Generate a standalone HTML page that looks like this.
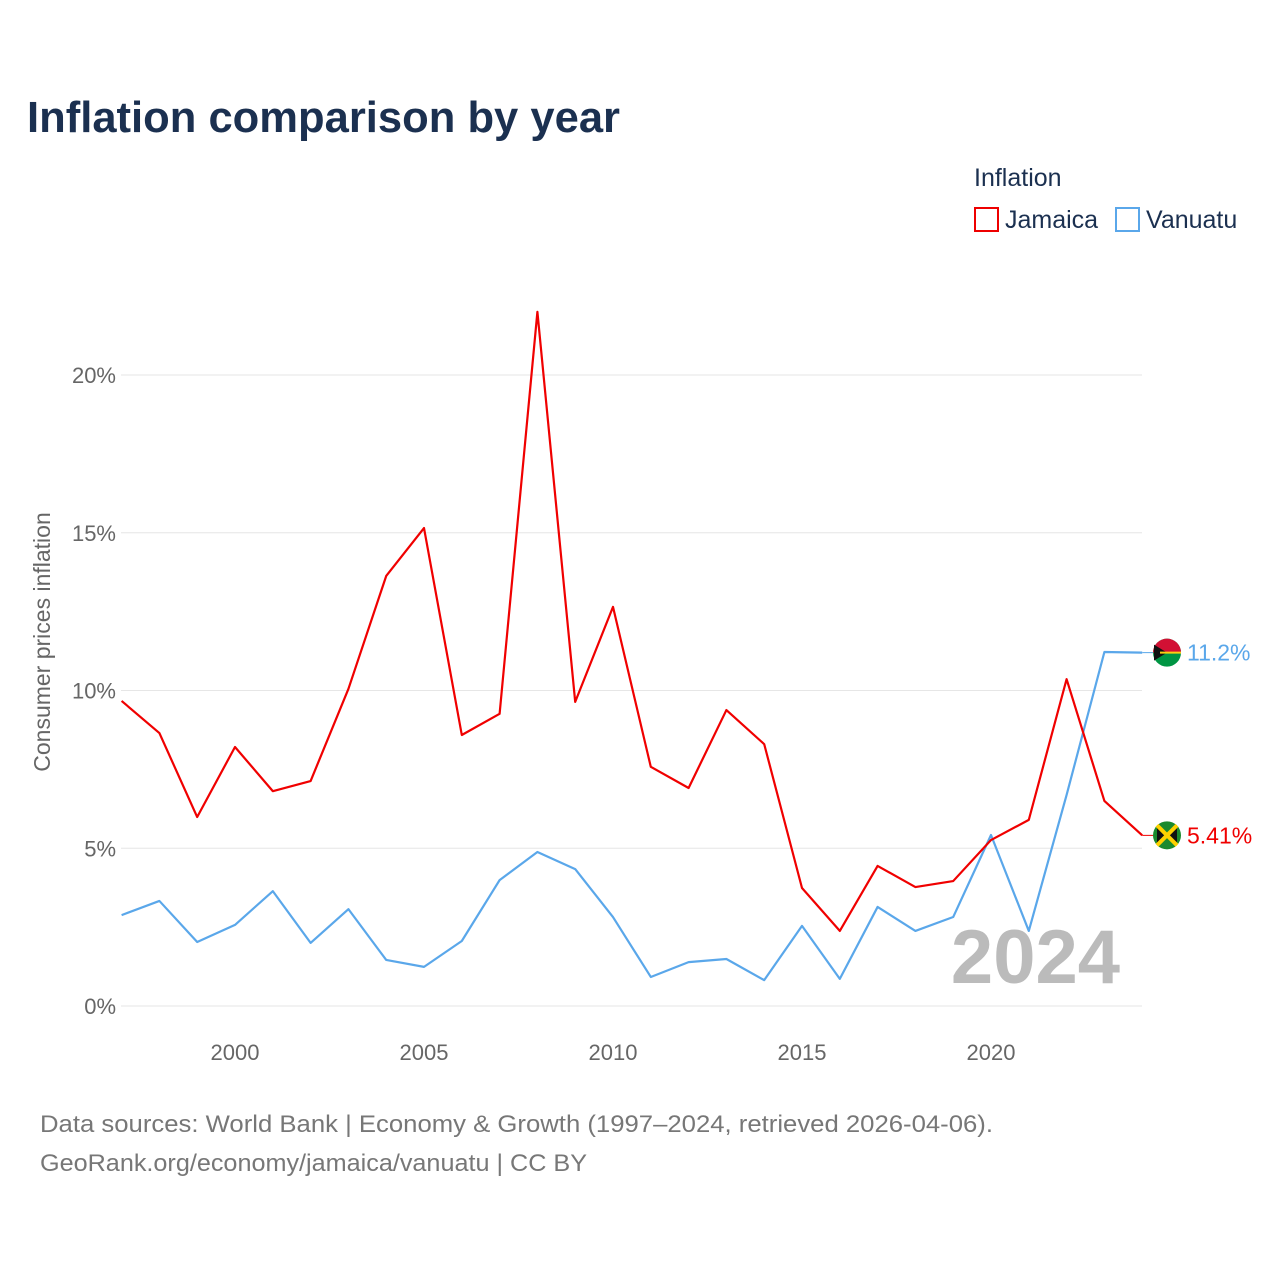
<!DOCTYPE html>
<html><head><meta charset="utf-8"><style>
body{margin:0;background:#fff;font-family:"Liberation Sans",sans-serif}
</style></head><body>
<svg width="1280" height="1280" xmlns="http://www.w3.org/2000/svg" id="chart">
<text x="27" y="132" font-size="44" font-weight="bold" fill="#1b3050" textLength="593" lengthAdjust="spacingAndGlyphs">Inflation comparison by year</text>
<text x="974" y="186" font-size="25" fill="#1b3050">Inflation</text>
<g><rect x="975" y="208" width="23" height="23" fill="none" stroke="#e00" stroke-width="2"/><text x="1005" y="228" font-size="25" fill="#1b3050">Jamaica</text></g>
<g><rect x="1116" y="208" width="23" height="23" fill="none" stroke="#5aa7ea" stroke-width="2"/><text x="1146" y="228" font-size="25" fill="#1b3050">Vanuatu</text></g>
<text transform="translate(50,642) rotate(-90)" text-anchor="middle" font-size="23" fill="#666">Consumer prices inflation</text>
<g id="grid"></g><g id="xt"></g>
<text x="1120" y="983" text-anchor="end" font-size="76" font-weight="bold" fill="#bbb">2024</text>
<g id="series"></g>
<text x="40" y="1132" font-size="24" fill="#777" textLength="953" lengthAdjust="spacingAndGlyphs">Data sources: World Bank | Economy &amp; Growth (1997–2024, retrieved 2026-04-06).</text>
<text x="40" y="1171" font-size="24" fill="#777" textLength="547" lengthAdjust="spacingAndGlyphs">GeoRank.org/economy/jamaica/vanuatu | CC BY</text>
</svg>
<script>
const years=[1997,1998,1999,2000,2001,2002,2003,2004,2005,2006,2007,2008,2009,2010,2011,2012,2013,2014,2015,2016,2017,2018,2019,2020,2021,2022,2023,2024];
const jamaica=[9.67,8.65,5.99,8.21,6.81,7.13,10.05,13.63,15.15,8.59,9.26,22.0,9.64,12.65,7.58,6.91,9.38,8.30,3.74,2.38,4.44,3.77,3.96,5.26,5.90,10.36,6.50,5.41];
const vanuatu=[2.88,3.33,2.03,2.57,3.64,2.00,3.07,1.46,1.24,2.06,3.99,4.88,4.34,2.82,0.92,1.39,1.49,0.82,2.54,0.86,3.14,2.38,2.82,5.42,2.38,6.69,11.22,11.2];
const yTicks=[0,5,10,15,20];
const xTicks=[2000,2005,2010,2015,2020];
const NS="http://www.w3.org/2000/svg";
const X=y=>121.6+(y-1997)*37.8;
const Y=v=>1006-v*31.55;
function mk(t,a,p){const e=document.createElementNS(NS,t);for(const k in a)e.setAttribute(k,a[k]);p.appendChild(e);return e;}
const grid=document.getElementById('grid');
yTicks.forEach(t=>{
 const l=mk('line',{x1:121,x2:1142,y1:Y(t),y2:Y(t),stroke:'#e6e6e6','stroke-width':1},grid);
 
 
 const tx=mk('text',{x:116,y:Y(t)+8,'text-anchor':'end','font-size':22,fill:'#666'},grid);
 tx.textContent=t+'%';
 
 
});
const xt=document.getElementById('xt');
xTicks.forEach(t=>{
 const tx=mk('text',{x:X(t),y:1060,'text-anchor':'middle','font-size':22,fill:'#666'},xt);
 tx.textContent=t;
 
 
});
const s=document.getElementById('series');
function line(vals,col,name,label){
 const pts=vals.map((v,i)=>X(years[i])+','+Y(v)).join(' ');
 const p=mk('polyline',{points:pts,fill:'none',stroke:col,'stroke-width':2.2,'stroke-linejoin':'round'},s);
 
 
 const last=vals[vals.length-1],ly=Y(last);
 mk('line',{x1:X(2024),x2:1160,y1:ly,y2:ly,stroke:col,'stroke-width':1},s);
 const g=mk('g',{},s);
 
 
 if(name==='jamaica'){
  mk('circle',{cx:1167,cy:ly,r:14,fill:'#1a8a2e'},g);
  mk('path',{d:`M1157 ${ly-10}L1167 ${ly}L1157 ${ly+10}Z M1177 ${ly-10}L1167 ${ly}L1177 ${ly+10}Z`,fill:'#111'},g);
  mk('path',{d:`M1157 ${ly-10}L1177 ${ly+10}M1177 ${ly-10}L1157 ${ly+10}`,stroke:'#fed100','stroke-width':4},g);
 }else{
  mk('circle',{cx:1167,cy:ly,r:14,fill:'#009543'},g);
  mk('path',{d:`M1153 ${ly}A14 14 0 0 1 1181 ${ly}Z`,fill:'#d21034'},g);
  mk('path',{d:`M1154 ${ly-8}L1167 ${ly}L1154 ${ly+8}Z`,fill:'#111'},g);
  mk('line',{x1:1160,y1:ly,x2:1181,y2:ly,stroke:'#fdce12','stroke-width':2},g);
 }
 const t=mk('text',{x:1187,y:ly+8,'font-size':23,fill:col},s);
 t.textContent=label;
 
 
}
line(vanuatu,'#5aa7ea','vanuatu','11.2%');
line(jamaica,'#f00000','jamaica','5.41%');
</script>
</body></html>
